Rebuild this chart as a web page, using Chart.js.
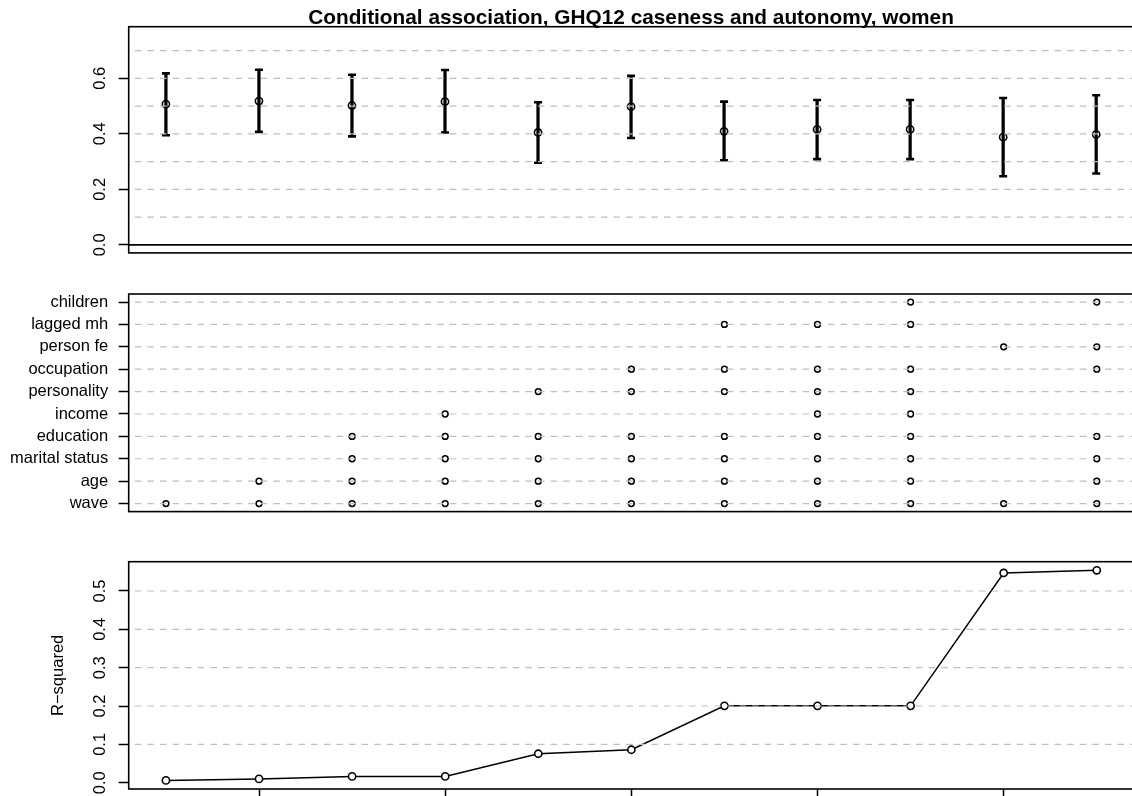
<!DOCTYPE html>
<html>
<head>
<meta charset="utf-8">
<script src="https://cdn.jsdelivr.net/npm/chart.js@4.4.0/dist/chart.umd.min.js"></script>
<style>
  html, body { margin: 0; padding: 0; background: #fff; overflow: hidden; width: 1132px; height: 796px; }
  canvas { position: absolute; left: 0; }
</style>
</head>
<body>
<canvas id="estimates" width="1140" height="270" style="top:0px"></canvas>
<canvas id="specification" width="1140" height="262" style="top:270px"></canvas>
<canvas id="fit" width="1140" height="290" style="top:532px"></canvas>
<script>
// ---- data ----
const chartTitle = 'Conditional association, GHQ12 caseness and autonomy, women';
const models = [1, 2, 3, 4, 5, 6, 7, 8, 9, 10, 11];
const estimate = [0.507, 0.518, 0.502, 0.516, 0.405, 0.498, 0.409, 0.416, 0.416, 0.388, 0.398];
const lowerCI  = [0.395, 0.407, 0.391, 0.405, 0.296, 0.385, 0.305, 0.309, 0.309, 0.247, 0.257];
const upperCI  = [0.618, 0.631, 0.613, 0.630, 0.514, 0.609, 0.516, 0.522, 0.522, 0.529, 0.539];
const rSquared = [0.006, 0.010, 0.0165, 0.0165, 0.0755, 0.086, 0.2005, 0.2005, 0.2005, 0.547, 0.554];
const covariates = ['wave', 'age', 'marital status', 'education', 'income',
                    'personality', 'occupation', 'person fe', 'lagged mh', 'children'];
const modelTerms = [
  ['wave'],
  ['wave', 'age'],
  ['wave', 'age', 'marital status', 'education'],
  ['wave', 'age', 'marital status', 'education', 'income'],
  ['wave', 'age', 'marital status', 'education', 'personality'],
  ['wave', 'age', 'marital status', 'education', 'personality', 'occupation'],
  ['wave', 'age', 'marital status', 'education', 'personality', 'occupation', 'lagged mh'],
  ['wave', 'age', 'marital status', 'education', 'income', 'personality', 'occupation', 'lagged mh'],
  ['wave', 'age', 'marital status', 'education', 'income', 'personality', 'occupation', 'lagged mh', 'children'],
  ['wave', 'person fe'],
  ['wave', 'age', 'marital status', 'education', 'occupation', 'person fe', 'children']
];
const estimateGrid = [0.1, 0.2, 0.3, 0.4, 0.5, 0.6, 0.7];
const rSquaredGrid = [0.1, 0.2, 0.3, 0.4, 0.5];
const rSquaredTitle = 'R\u2212squared';

// ---- shared look ----
const FONT = '"Liberation Sans", Arial, Helvetica, sans-serif';
Chart.defaults.font.family = FONT;
Chart.defaults.font.size = 16.5;
Chart.defaults.color = '#000';
const AXIS_WIDTH = 128.7;

// dashed reference lines drawn over the marks, plus the plot frame and title
const overlay = {
  id: 'overlay',
  afterDatasetsDraw(chart, args, opts) {
    const { ctx, chartArea: a } = chart;
    const y = chart.scales.y;
    ctx.save();
    ctx.beginPath();
    ctx.rect(a.left, a.top, a.right - a.left, a.bottom - a.top);
    ctx.clip();
    ctx.strokeStyle = '#bebebe';
    ctx.lineWidth = 1.2;
    ctx.setLineDash([6.5, 6.1]);
    ctx.lineDashOffset = 6.5;
    (opts.grid || []).forEach(v => {
      const py = y.getPixelForValue(v);
      ctx.beginPath(); ctx.moveTo(a.left, py); ctx.lineTo(a.right, py); ctx.stroke();
    });
    if (opts.zeroLine) {
      const py = y.getPixelForValue(0);
      ctx.setLineDash([]);
      ctx.strokeStyle = '#000';
      ctx.lineWidth = 1.6;
      ctx.beginPath(); ctx.moveTo(a.left, py); ctx.lineTo(a.right, py); ctx.stroke();
    }
    ctx.restore();
  },
  afterDraw(chart, args, opts) {
    const { ctx, chartArea: a } = chart;
    ctx.save();
    ctx.strokeStyle = '#000';
    ctx.lineWidth = 1.6;
    ctx.strokeRect(a.left, a.top, a.right - a.left, a.bottom - a.top);
    if (opts.title) {
      ctx.fillStyle = '#000';
      ctx.font = 'bold 20.8px ' + FONT;
      ctx.textAlign = 'center';
      ctx.textBaseline = 'alphabetic';
      ctx.fillText(opts.title, (a.left + a.right) / 2, a.top - 2.7);
    }
    ctx.restore();
  }
};

function xScale(showTicks) {
  const scale = {
    type: 'linear', min: 0.6, max: 11.4, offset: false,
    display: showTicks,
    grid: { offset: false, drawOnChartArea: false, drawTicks: true, tickLength: 10, tickWidth: 1.5, tickColor: '#000' },
    border: { display: false },
    ticks: { display: false, stepSize: 2, includeBounds: false, autoSkip: false }
  };
  if (showTicks) scale.afterFit = s => { s.height = 33; };
  return scale;
}

function yScale(min, max, step, rotated, format) {
  return {
    type: 'linear', min: min, max: max,
    grid: { drawOnChartArea: false, drawTicks: true, tickLength: 10, tickWidth: 1.5, tickColor: '#000' },
    border: { display: false },
    ticks: {
      stepSize: step, includeBounds: false, autoSkip: false,
      minRotation: rotated ? 90 : 0, maxRotation: rotated ? 90 : 0,
      crossAlign: rotated ? 'center' : 'near',
      padding: rotated ? 7.2 : 10.5,
      color: '#000',
      callback: format
    },
    afterFit: s => { s.width = AXIS_WIDTH; }
  };
}

const common = {
  responsive: false,
  devicePixelRatio: 1,
  animation: false,
  events: [],
  plugins: { legend: { display: false }, tooltip: { enabled: false }, title: { display: false } }
};

// ---- panel 1: estimates with confidence intervals ----
new Chart(document.getElementById('estimates'), {
  type: 'scatter',
  data: {
    datasets: [
      {
        type: 'scatter', order: 0,
        data: models.map((m, i) => ({ x: m, y: estimate[i] })),
        pointStyle: 'circle', pointRadius: 3.6, pointBorderWidth: 1.6,
        pointBorderColor: '#000', pointBackgroundColor: 'rgba(0,0,0,0)'
      },
      {
        type: 'scatter', order: 1,
        data: models.map((m, i) => ({ x: m, y: lowerCI[i] }))
          .concat(models.map((m, i) => ({ x: m, y: upperCI[i] }))),
        pointStyle: 'line', pointRadius: 4, pointBorderWidth: 2.6, pointBorderColor: '#000'
      },
      {
        type: 'bar', order: 2,
        data: models.map((m, i) => ({ x: m, y: [lowerCI[i], upperCI[i]] })),
        backgroundColor: '#000', borderWidth: 0, barThickness: 2.6
      }
    ]
  },
  options: Object.assign({}, common, {
    layout: { padding: { left: 0, right: 6, top: 26.7, bottom: 15.3 } },
    scales: {
      x: xScale(false),
      y: yScale(-0.029, 0.786, 0.2, true, v => v.toFixed(1))
    },
    plugins: Object.assign({}, common.plugins, {
      overlay: { grid: estimateGrid, zeroLine: true, title: chartTitle }
    })
  }),
  plugins: [overlay]
});

// ---- panel 2: covariates included in each model ----
const specPoints = [];
modelTerms.forEach((terms, i) => {
  terms.forEach(t => specPoints.push({ x: models[i], y: covariates.indexOf(t) + 1 }));
});

new Chart(document.getElementById('specification'), {
  type: 'scatter',
  data: {
    datasets: [{
      data: specPoints,
      pointStyle: 'circle', pointRadius: 2.9, pointBorderWidth: 1.5,
      pointBorderColor: '#000', pointBackgroundColor: 'rgba(0,0,0,0)'
    }]
  },
  options: Object.assign({}, common, {
    layout: { padding: { left: 0, right: 6, top: 24, bottom: 10.3 } },
    scales: {
      x: xScale(false),
      y: yScale(0.64, 10.36, 1, false, v => covariates[Math.round(v) - 1] || '')
    },
    plugins: Object.assign({}, common.plugins, {
      overlay: { grid: covariates.map((c, i) => i + 1) }
    })
  }),
  plugins: [overlay]
});

// ---- panel 3: model fit ----
const fitY = yScale(-0.0164, 0.5764, 0.1, true, v => v.toFixed(1));
fitY.title = { display: true, text: rSquaredTitle, color: '#000', font: { size: 16.5 }, padding: { top: 49, bottom: 0 } };

new Chart(document.getElementById('fit'), {
  type: 'scatter',
  data: {
    datasets: [{
      showLine: true,
      data: models.map((m, i) => ({ x: m, y: rSquared[i] })),
      borderColor: '#000', borderWidth: 1.5,
      pointStyle: 'circle', pointRadius: 3.6, pointBorderWidth: 1.6,
      pointBorderColor: '#000', pointBackgroundColor: '#fff'
    }]
  },
  options: Object.assign({}, common, {
    layout: { padding: { left: 0, right: 6, top: 29.7, bottom: 0 } },
    scales: {
      x: xScale(true),
      y: fitY
    },
    plugins: Object.assign({}, common.plugins, {
      overlay: { grid: rSquaredGrid }
    })
  }),
  plugins: [overlay]
});
</script>
</body>
</html>
